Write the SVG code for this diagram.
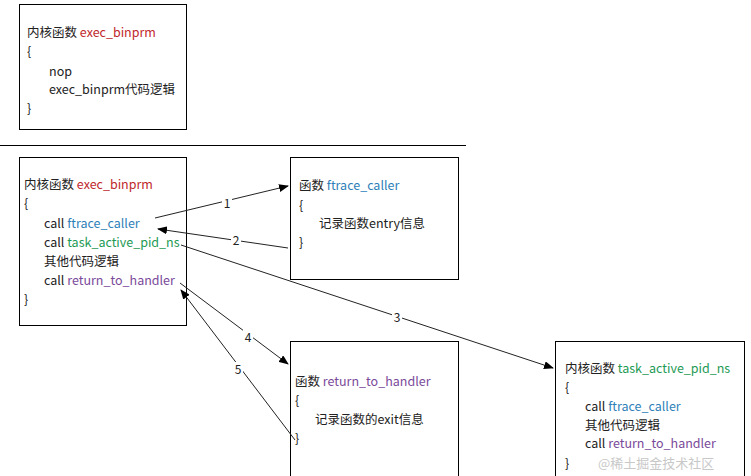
<svg xmlns="http://www.w3.org/2000/svg" width="751" height="476" viewBox="0 0 751 476">
<defs><marker id="a" markerWidth="10" markerHeight="8" refX="9" refY="4" orient="auto" markerUnits="userSpaceOnUse"><path d="M0,0 L10,4 L0,8 z" fill="#000"/></marker></defs>
<style>
text{font-family:"Noto Sans CJK SC","Liberation Sans",sans-serif;font-size:12.5px;fill:#222}
.b{fill:#fff;stroke:#000;stroke-width:1}
.r{fill:#c0282d}.bl{fill:#2e7fb8}.g{fill:#1e9a55}.p{fill:#7a4a9a}
.l{stroke:#222;stroke-width:1;fill:none}
.n{text-anchor:middle;fill:#222;font-size:12px}
</style>
<rect width="751" height="476" fill="#fff"/>
<g id="top"><rect class="b" x="19.5" y="4.5" width="167" height="125"/>
<text x="27" y="37">内核函数 <tspan class="r">exec_binprm</tspan></text>
<text x="27" y="56">{</text><text x="49" y="76">nop</text><text x="49" y="94">exec_binprm代码逻辑</text><text x="27" y="113">}</text></g>
<line x1="0" y1="145.5" x2="466" y2="145.5" stroke="#000"/>
<g id="exec"><rect class="b" x="19.5" y="157.5" width="167" height="168"/>
<text x="24" y="189">内核函数 <tspan class="r">exec_binprm</tspan></text>
<text x="24" y="208">{</text>
<text x="44" y="228">call <tspan class="bl">ftrace_caller</tspan></text>
<text x="44" y="247">call <tspan class="g">task_active_pid_ns</tspan></text>
<text x="44" y="266">其他代码逻辑</text>
<text x="44" y="285">call <tspan class="p">return_to_handler</tspan></text>
<text x="24" y="304">}</text></g>
<g id="ftrace"><rect class="b" x="290.5" y="157.5" width="168" height="122"/>
<text x="299" y="190">函数 <tspan class="bl">ftrace_caller</tspan></text>
<text x="299" y="210">{</text><text x="319" y="228">记录函数entry信息</text><text x="299" y="247">}</text></g>
<g id="rth"><rect class="b" x="290.5" y="341.5" width="168" height="140"/>
<text x="295" y="386">函数 <tspan class="p">return_to_handler</tspan></text>
<text x="295" y="405">{</text><text x="315" y="424">记录函数的exit信息</text><text x="295" y="443">}</text></g>
<g id="task"><rect class="b" x="555.5" y="341.5" width="189" height="140"/>
<text x="565" y="373">内核函数 <tspan class="g">task_active_pid_ns</tspan></text>
<text x="565" y="392">{</text>
<text x="585" y="411">call <tspan class="bl">ftrace_caller</tspan></text>
<text x="585" y="430">其他代码逻辑</text>
<text x="585" y="448">call <tspan class="p">return_to_handler</tspan></text>
<text x="565" y="468">}</text>
<text x="598" y="468" style="fill:#bbb;font-size:13px;opacity:0.8">@稀土掘金技术社区</text></g>
<g id="connectors">
<line class="l" x1="155" y1="218" x2="288" y2="186" marker-end="url(#a)"/>
<line class="l" x1="288" y1="248" x2="158" y2="229" marker-end="url(#a)"/>
<line class="l" x1="181" y1="245" x2="553" y2="368" marker-end="url(#a)"/>
<line class="l" x1="180" y1="283" x2="288" y2="364" marker-end="url(#a)"/>
<line class="l" x1="295" y1="440" x2="181" y2="290" marker-end="url(#a)"/>
<g><rect x="222" y="196" width="10" height="14" fill="#fff"/><rect x="231" y="234" width="10" height="14" fill="#fff"/><rect x="392" y="310" width="10" height="14" fill="#fff"/><rect x="243" y="330" width="10" height="14" fill="#fff"/><rect x="233" y="362" width="10" height="14" fill="#fff"/></g>
<text class="n" x="227" y="208">1</text><text class="n" x="236" y="245">2</text><text class="n" x="397" y="322">3</text><text class="n" x="248" y="342">4</text><text class="n" x="238" y="374">5</text>
</g>
</svg>
